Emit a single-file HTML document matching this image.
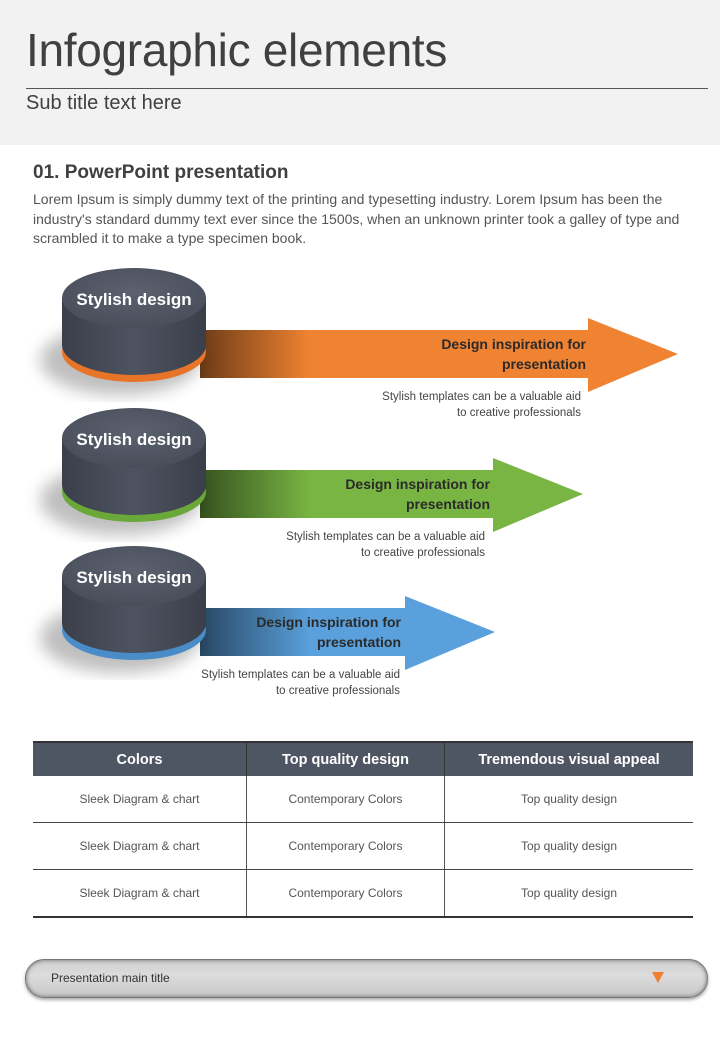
<!DOCTYPE html>
<html><head><meta charset="utf-8"><style>
body{margin:0;width:720px;height:1040px;background:#fff;font-family:"Liberation Sans",sans-serif;position:relative;overflow:hidden}
.hdr{position:absolute;left:0;top:0;width:720px;height:145px;background:#f2f2f2}
.t1{position:absolute;left:26px;top:23px;font-size:46px;color:#404040;letter-spacing:-0.3px}
.hl{position:absolute;left:26px;top:88px;width:682px;height:1px;background:#555}
.st{position:absolute;left:26px;top:92px;font-size:20px;color:#404040}
.h2{position:absolute;left:33px;top:162px;font-size:19px;font-weight:bold;color:#404040}
.p{position:absolute;left:33px;top:190px;width:655px;font-size:14px;line-height:19.5px;color:#555}
table{position:absolute;left:33px;top:741px;width:660px;border-collapse:collapse;font-size:12px;color:#555}
th{background:#4f5663;color:#fff;font-size:14.5px;height:33px;padding:0;border-top:2px solid #333;border-left:1px solid #333}
td{height:46px;padding:0;text-align:center;border-bottom:1px solid #444;border-left:1px solid #555}
tr:last-child td{border-bottom:2px solid #333}
th:first-child,td:first-child{border-left:none}
.pill{position:absolute;left:25px;top:959px;width:681px;height:37px;border-radius:19px;background:linear-gradient(#cfcfcf,#dcdcdc 40%,#c8c8c8);border:1px solid #777;box-shadow:inset 0 0 4px #666,0 2px 3px #aaa}
.pill span{position:absolute;left:25px;top:11px;font-size:12px;color:#333}
.tri{position:absolute;left:626px;top:12px;width:0;height:0;border-left:6px solid transparent;border-right:6px solid transparent;border-top:11px solid #f08030}
</style></head><body>
<div class="hdr"></div>
<div class="t1">Infographic elements</div>
<div class="hl"></div>
<div class="st">Sub title text here</div>
<div class="h2">01. PowerPoint presentation</div>
<div class="p">Lorem Ipsum is simply dummy text of the printing and typesetting industry. Lorem Ipsum has been the industry's standard dummy text ever since the 1500s, when an unknown printer took a galley of type and scrambled it to make a type specimen book.</div>
<svg width="720" height="720" style="position:absolute;left:0;top:0" font-family="Liberation Sans, sans-serif">
<defs>
<linearGradient id="sh" x1="0" x2="1"><stop offset="0" stop-color="#000" stop-opacity="0.55"/><stop offset="1" stop-color="#000" stop-opacity="0"/></linearGradient>
<linearGradient id="cyl" x1="0" x2="1"><stop offset="0" stop-color="#3a3f4a"/><stop offset="0.5" stop-color="#4d5360"/><stop offset="1" stop-color="#3a3f4a"/></linearGradient>
<radialGradient id="top" cx="0.5" cy="0.4" r="0.6"><stop offset="0" stop-color="#5b616e"/><stop offset="1" stop-color="#484e5a"/></radialGradient>
<filter id="bl"><feGaussianBlur stdDeviation="8"/></filter>
</defs>
<g id="g1">
<polygon points="200,330 588,330 588,318 678,354 588,392 588,378 200,378" fill="#f08332"/>
<rect x="200" y="330" width="110" height="48" fill="url(#sh)"/>
<ellipse cx="120" cy="360" rx="80" ry="35" fill="#000" opacity="0.25" filter="url(#bl)"/>
<ellipse cx="134" cy="352" rx="72" ry="30" fill="#e8742a"/>
<path d="M62,298 L62,345 A72,30 0 0 0 206,345 L206,298 Z" fill="url(#cyl)"/>
<ellipse cx="134" cy="298" rx="72" ry="30" fill="url(#top)"/>
<text x="134" y="305" text-anchor="middle" fill="#fff" font-size="17" font-weight="bold">Stylish design</text>
<text x="586" y="349" text-anchor="end" fill="#2a2a2a" font-size="14" font-weight="bold">Design inspiration for</text>
<text x="586" y="369" text-anchor="end" fill="#2a2a2a" font-size="14" font-weight="bold">presentation</text>
<text x="581" y="400" text-anchor="end" fill="#444" font-size="11.5">Stylish templates can be a valuable aid</text>
<text x="581" y="416" text-anchor="end" fill="#444" font-size="11.5">to creative professionals</text>
</g>
<g transform="translate(0,140)">
<polygon points="200,330 493,330 493,318 583,354 493,392 493,378 200,378" fill="#78b543"/>
<rect x="200" y="330" width="110" height="48" fill="url(#sh)"/>
<ellipse cx="120" cy="360" rx="80" ry="35" fill="#000" opacity="0.25" filter="url(#bl)"/>
<ellipse cx="134" cy="352" rx="72" ry="30" fill="#6aa83a"/>
<path d="M62,298 L62,345 A72,30 0 0 0 206,345 L206,298 Z" fill="url(#cyl)"/>
<ellipse cx="134" cy="298" rx="72" ry="30" fill="url(#top)"/>
<text x="134" y="305" text-anchor="middle" fill="#fff" font-size="17" font-weight="bold">Stylish design</text>
<text x="490" y="349" text-anchor="end" fill="#2a2a2a" font-size="14" font-weight="bold">Design inspiration for</text>
<text x="490" y="369" text-anchor="end" fill="#2a2a2a" font-size="14" font-weight="bold">presentation</text>
<text x="485" y="400" text-anchor="end" fill="#444" font-size="11.5">Stylish templates can be a valuable aid</text>
<text x="485" y="416" text-anchor="end" fill="#444" font-size="11.5">to creative professionals</text>
</g>
<g transform="translate(0,278)">
<polygon points="200,330 405,330 405,318 495,354 405,392 405,378 200,378" fill="#5aa0dc"/>
<rect x="200" y="330" width="110" height="48" fill="url(#sh)"/>
<ellipse cx="120" cy="360" rx="80" ry="35" fill="#000" opacity="0.25" filter="url(#bl)"/>
<ellipse cx="134" cy="352" rx="72" ry="30" fill="#4a8cc8"/>
<path d="M62,298 L62,345 A72,30 0 0 0 206,345 L206,298 Z" fill="url(#cyl)"/>
<ellipse cx="134" cy="298" rx="72" ry="30" fill="url(#top)"/>
<text x="134" y="305" text-anchor="middle" fill="#fff" font-size="17" font-weight="bold">Stylish design</text>
<text x="401" y="349" text-anchor="end" fill="#2a2a2a" font-size="14" font-weight="bold">Design inspiration for</text>
<text x="401" y="369" text-anchor="end" fill="#2a2a2a" font-size="14" font-weight="bold">presentation</text>
<text x="400" y="400" text-anchor="end" fill="#444" font-size="11.5">Stylish templates can be a valuable aid</text>
<text x="400" y="416" text-anchor="end" fill="#444" font-size="11.5">to creative professionals</text>
</g>
</svg>
<table>
<tr><th style="width:213px">Colors</th><th style="width:197px">Top quality design</th><th>Tremendous visual appeal</th></tr>
<tr><td>Sleek Diagram &amp; chart</td><td>Contemporary Colors</td><td>Top quality design</td></tr>
<tr><td>Sleek Diagram &amp; chart</td><td>Contemporary Colors</td><td>Top quality design</td></tr>
<tr><td>Sleek Diagram &amp; chart</td><td>Contemporary Colors</td><td>Top quality design</td></tr>
</table>
<div class="pill"><span>Presentation main title</span><div class="tri"></div></div>
</body></html>
